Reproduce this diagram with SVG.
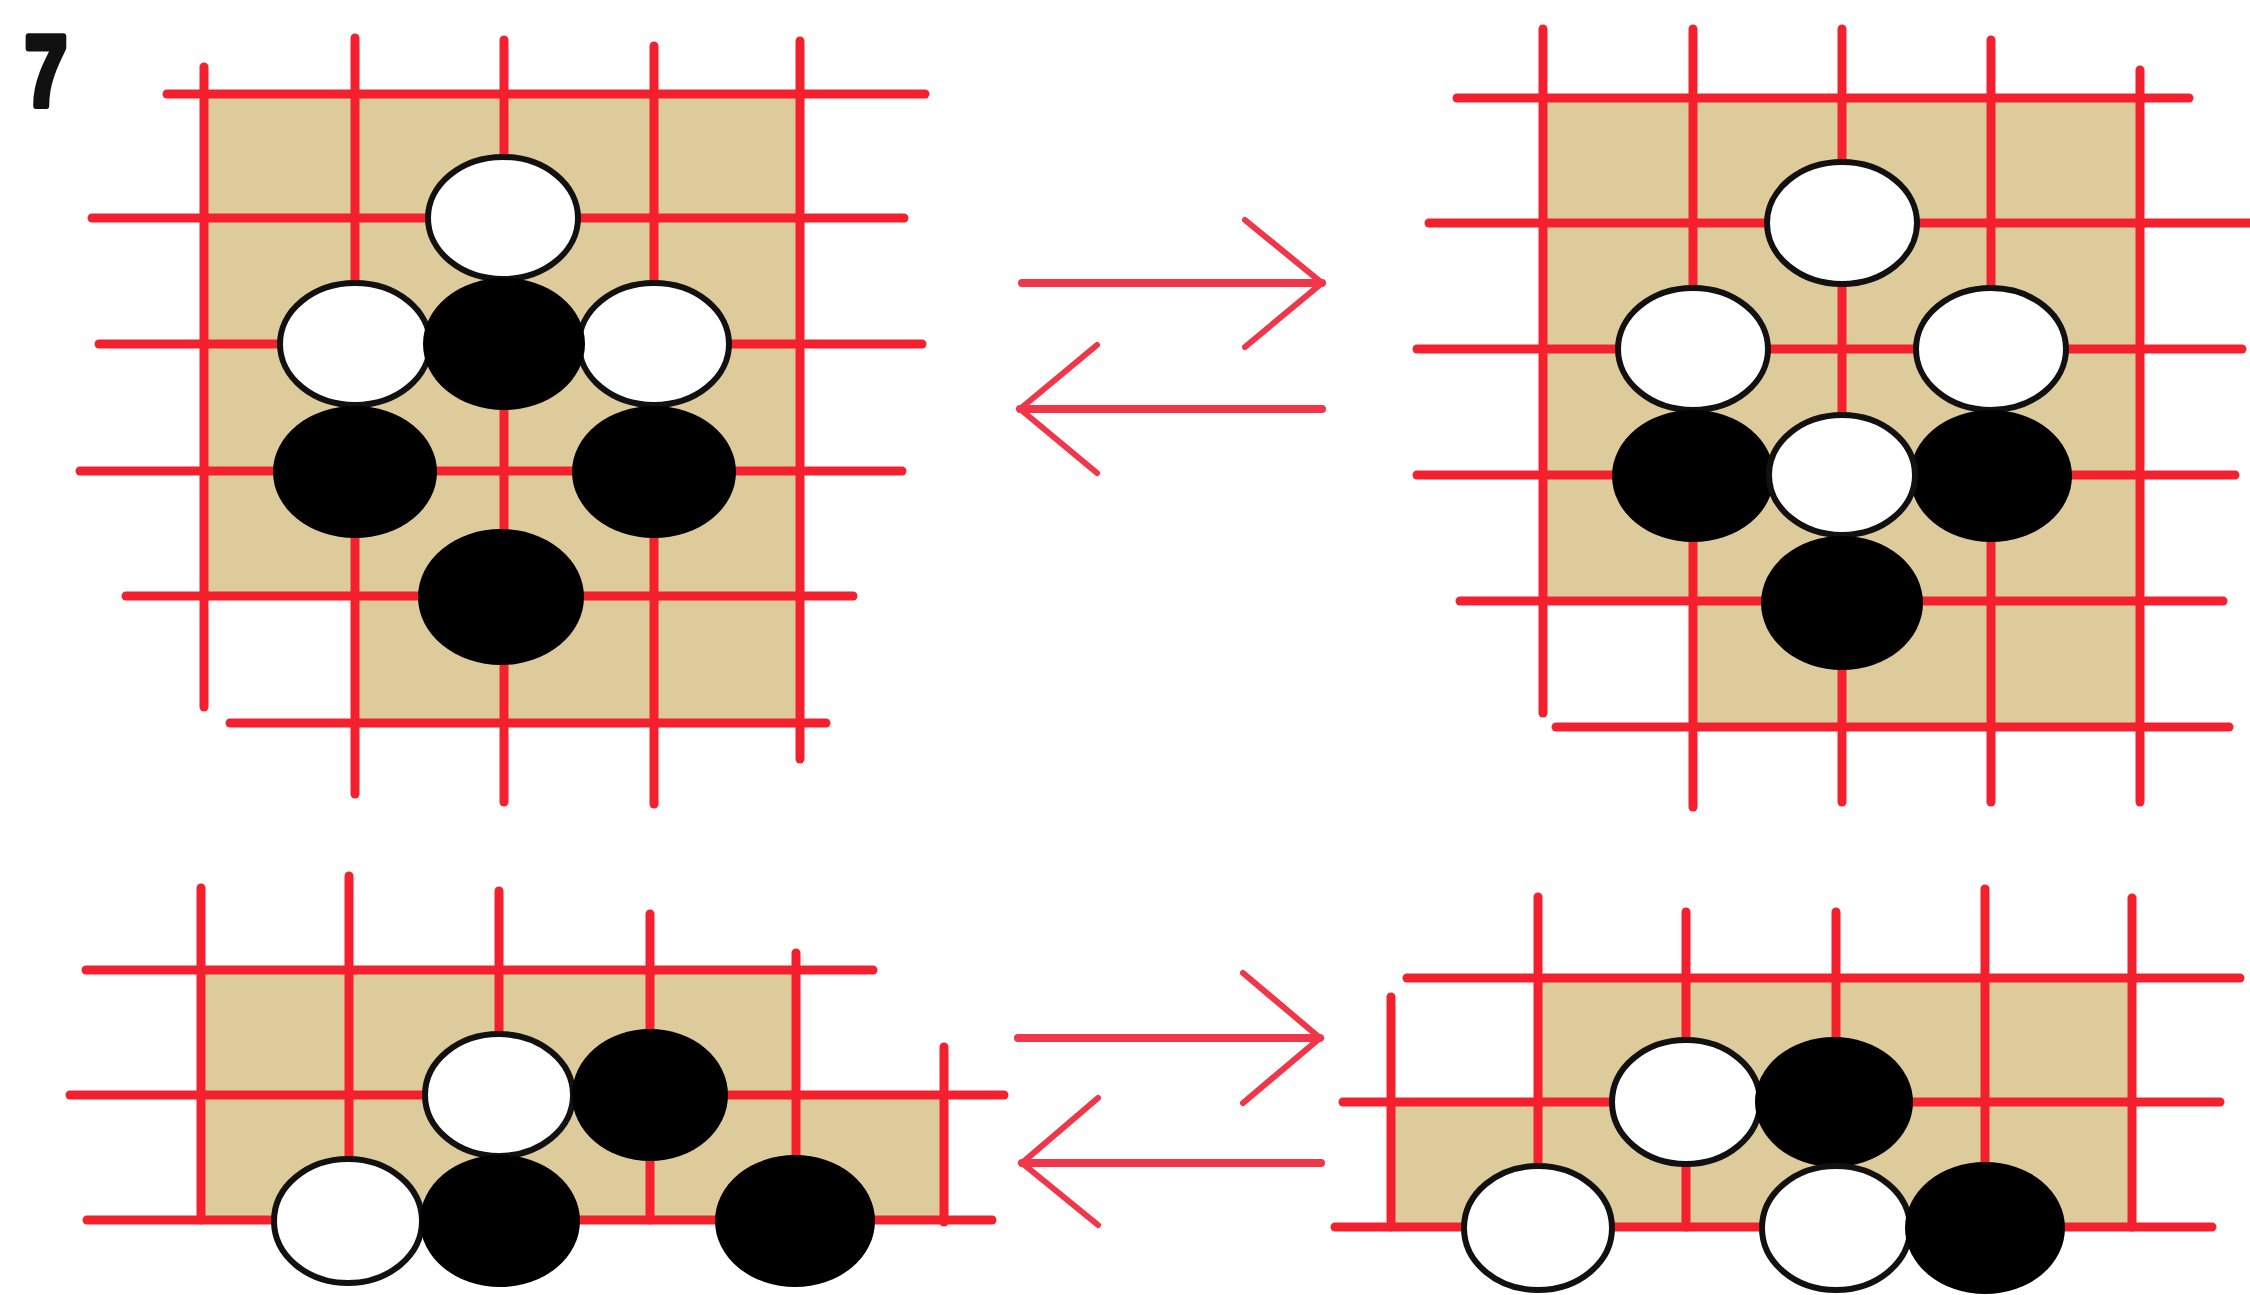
<svg xmlns="http://www.w3.org/2000/svg" width="2250" height="1295" viewBox="0 0 2250 1295">
<style>
.bg{fill:#ffffff}
.tan{fill:#ddcb9b}
.g line{stroke:#f5202e;stroke-width:9;stroke-linecap:round}
.w{fill:#ffffff;stroke:#111111;stroke-width:6}
.b{fill:#000000}
.arr{stroke:#f2364a;stroke-width:8;stroke-linecap:round;fill:none}
.arm{stroke:#f2364a;stroke-width:6;stroke-linecap:round;fill:none}
.lbl{font-family:"Liberation Sans",Arial,sans-serif;font-weight:bold;font-size:100px;fill:#111111;stroke:#111111;stroke-width:7;stroke-linejoin:round}
</style>
<rect class="bg" x="0" y="0" width="2250" height="1295"/>
<text id="label-7" class="lbl" x="25" y="106" textLength="42" lengthAdjust="spacingAndGlyphs">7</text>

<g id="board-top-left">
  <polygon class="tan" points="204,94 800,94 800,723 355,723 355,596 204,596"/>
  <g class="g">
    <line x1="167" y1="94" x2="925" y2="94"/>
    <line x1="92" y1="218" x2="904" y2="218"/>
    <line x1="99" y1="344" x2="922" y2="344"/>
    <line x1="80" y1="471" x2="902" y2="471"/>
    <line x1="126" y1="596" x2="853" y2="596"/>
    <line x1="230" y1="723" x2="826" y2="723"/>
    <line x1="204" y1="67" x2="204" y2="707"/>
    <line x1="355" y1="38" x2="355" y2="794"/>
    <line x1="504" y1="40" x2="504" y2="802"/>
    <line x1="654" y1="46" x2="654" y2="804"/>
    <line x1="800" y1="41" x2="800" y2="759"/>
  </g>
  <ellipse class="w" cx="503" cy="218" rx="75" ry="61"/>
  <ellipse class="w" cx="355" cy="344" rx="75" ry="61"/>
  <ellipse class="w" cx="654" cy="344" rx="75" ry="61"/>
  <ellipse class="b" cx="504" cy="344" rx="81" ry="66"/>
  <ellipse class="b" cx="355" cy="472" rx="82" ry="66"/>
  <ellipse class="b" cx="654" cy="472" rx="82" ry="66"/>
  <ellipse class="b" cx="501" cy="597" rx="83" ry="68"/>
</g>

<g id="board-top-right">
  <polygon class="tan" points="1543,98 2140,98 2140,727 1693,727 1693,601 1543,601"/>
  <g class="g">
    <line x1="1457" y1="98" x2="2189" y2="98"/>
    <line x1="1429" y1="223" x2="2250" y2="223"/>
    <line x1="1417" y1="349" x2="2242" y2="349"/>
    <line x1="1417" y1="475" x2="2235" y2="475"/>
    <line x1="1460" y1="601" x2="2223" y2="601"/>
    <line x1="1556" y1="727" x2="2229" y2="727"/>
    <line x1="1543" y1="29" x2="1543" y2="713"/>
    <line x1="1693" y1="29" x2="1693" y2="807"/>
    <line x1="1842" y1="29" x2="1842" y2="802"/>
    <line x1="1991" y1="40" x2="1991" y2="802"/>
    <line x1="2140" y1="70" x2="2140" y2="802"/>
  </g>
  <ellipse class="w" cx="1842" cy="223" rx="75" ry="61"/>
  <ellipse class="w" cx="1693" cy="349" rx="75" ry="61"/>
  <ellipse class="w" cx="1991" cy="349" rx="75" ry="61"/>
  <ellipse class="b" cx="1693" cy="476" rx="81" ry="66"/>
  <ellipse class="b" cx="1991" cy="476" rx="81" ry="66"/>
  <ellipse class="w" cx="1842" cy="475" rx="73" ry="60"/>
  <ellipse class="b" cx="1842" cy="603" rx="81" ry="67"/>
</g>

<g id="board-bottom-left">
  <polygon class="tan" points="201,970 796,970 796,1095 944,1095 944,1220 201,1220"/>
  <g class="g">
    <line x1="86" y1="970" x2="873" y2="970"/>
    <line x1="70" y1="1095" x2="1004" y2="1095"/>
    <line x1="87" y1="1220" x2="992" y2="1220"/>
    <line x1="201" y1="888" x2="201" y2="1220"/>
    <line x1="349" y1="876" x2="349" y2="1220"/>
    <line x1="499" y1="891" x2="499" y2="1220"/>
    <line x1="650" y1="914" x2="650" y2="1220"/>
    <line x1="796" y1="953" x2="796" y2="1220"/>
    <line x1="944" y1="1047" x2="944" y2="1222"/>
  </g>
  <ellipse class="w" cx="499" cy="1095" rx="74" ry="61"/>
  <ellipse class="b" cx="650" cy="1095" rx="78" ry="66"/>
  <ellipse class="w" cx="348" cy="1221" rx="74" ry="62"/>
  <ellipse class="b" cx="500" cy="1221" rx="80" ry="66"/>
  <ellipse class="b" cx="795" cy="1221" rx="80" ry="66"/>
</g>

<g id="board-bottom-right">
  <polygon class="tan" points="1538,978 2132,978 2132,1227 1391,1227 1391,1102 1538,1102"/>
  <g class="g">
    <line x1="1407" y1="978" x2="2240" y2="978"/>
    <line x1="1343" y1="1102" x2="2220" y2="1102"/>
    <line x1="1335" y1="1227" x2="2212" y2="1227"/>
    <line x1="1391" y1="997" x2="1391" y2="1227"/>
    <line x1="1538" y1="897" x2="1538" y2="1227"/>
    <line x1="1686" y1="912" x2="1686" y2="1227"/>
    <line x1="1836" y1="912" x2="1836" y2="1227"/>
    <line x1="1985" y1="889" x2="1985" y2="1227"/>
    <line x1="2132" y1="898" x2="2132" y2="1227"/>
  </g>
  <ellipse class="w" cx="1686" cy="1102" rx="74" ry="62"/>
  <ellipse class="b" cx="1834" cy="1102" rx="79" ry="65"/>
  <ellipse class="w" cx="1538" cy="1228" rx="74" ry="62"/>
  <ellipse class="w" cx="1836" cy="1228" rx="74" ry="62"/>
  <ellipse class="b" cx="1985" cy="1228" rx="80" ry="66"/>
</g>

<g id="connectors">
  <g id="arrow-top-right">
    <line class="arr" x1="1022" y1="283" x2="1322" y2="283"/>
    <polyline class="arm" points="1245,220 1322,283 1245,347"/>
  </g>
  <g id="arrow-top-left">
    <line class="arr" x1="1020" y1="409" x2="1322" y2="409"/>
    <polyline class="arm" points="1097,345 1020,409 1097,473"/>
  </g>
  <g id="arrow-bottom-right">
    <line class="arr" x1="1018" y1="1038" x2="1320" y2="1038"/>
    <polyline class="arm" points="1243,973 1320,1038 1243,1103"/>
  </g>
  <g id="arrow-bottom-left">
    <line class="arr" x1="1022" y1="1163" x2="1321" y2="1163"/>
    <polyline class="arm" points="1098,1098 1022,1163 1098,1225"/>
  </g>
</g>
</svg>
